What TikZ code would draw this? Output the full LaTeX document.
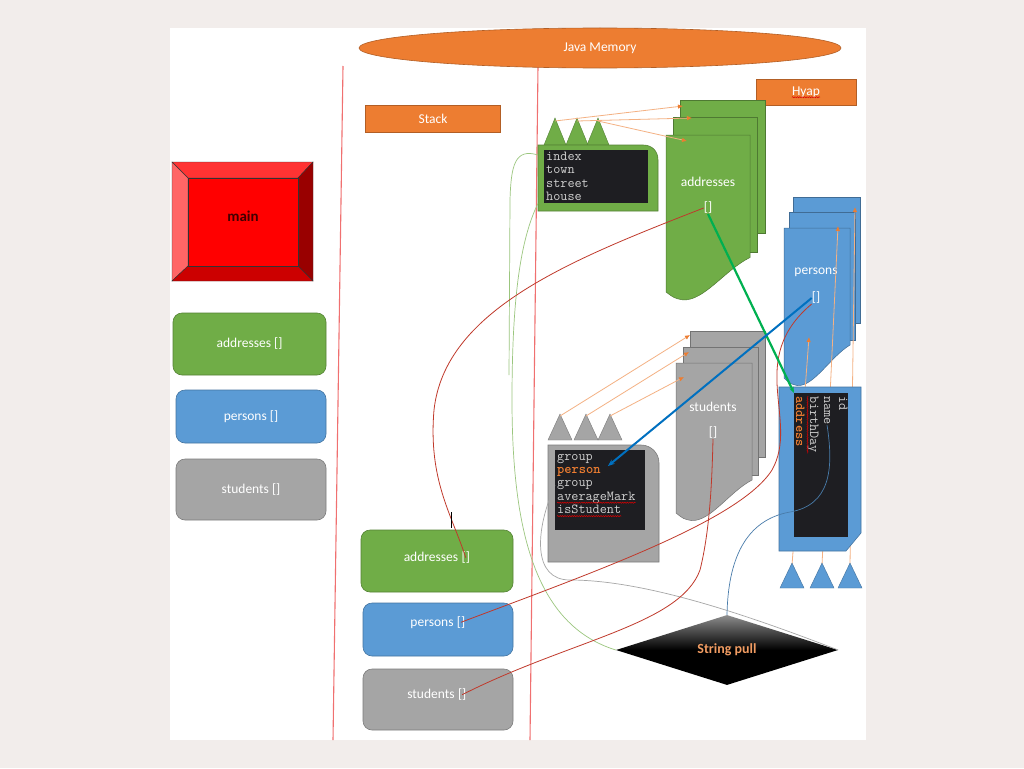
\documentclass[tikz,border=0pt]{standalone}
\usepackage{fontspec}
\setmainfont{Carlito}
\usetikzlibrary{positioning,calc,shapes.geometric,arrows.meta,decorations.pathmorphing}

\definecolor{pagebg}{HTML}{F2EDEB}
\definecolor{jorange}{HTML}{ED7D31}
\definecolor{lorange}{HTML}{F4B183}
\definecolor{jgreen}{HTML}{70AD47}
\definecolor{jblue}{HTML}{5B9BD5}
\definecolor{jgray}{HTML}{A5A5A5}
\definecolor{codebg}{HTML}{1E1E22}
\definecolor{codefg}{HTML}{D0D0D0}
\definecolor{divred}{HTML}{F07070}
\definecolor{wirered}{HTML}{C0392B}
\definecolor{thickgreen}{HTML}{00B050}
\definecolor{thickblue}{HTML}{0070C0}

\newcommand{\keytxt}[1]{\textcolor{jorange}{\bfseries #1}}
% one page of a document stack: x, y, width, height, colour
\newcommand{\docpage}[5]{%
  \filldraw[fill=#5, draw=#5!70!black, line width=0.5pt]
    (#1,#2) -- ({#1+#3},#2) -- ({#1+#3},{#2+0.78*#4})
    .. controls ({#1+0.7*#3},{#2+0.86*#4}) and ({#1+0.45*#3},{#2+1.06*#4}) .. ({#1+0.2*#3},{#2+1.05*#4})
    .. controls ({#1+0.1*#3},{#2+1.04*#4}) .. (#1,{#2+#4}) -- cycle;}

\begin{document}
\begin{tikzpicture}[x=1pt, y=-1pt,
    every node/.style={inner sep=0pt, text=white, font=\fontsize{13.5}{15}\selectfont},
    orangebar/.style={fill=jorange, draw=jorange!75!black, line width=0.6pt},
    stackbox/.style={rounded corners=9pt, line width=0.6pt},
    fld/.style={text=codefg, font=\ttfamily\fontsize{13.8}{14}\selectfont},
    codebox/.style={fill=codebg, anchor=north west},
    ptr/.style={draw=lorange, line width=0.8pt, -{Latex[length=5pt,width=4.5pt,color=jorange]}},
    wire/.style={draw=wirered, line width=0.8pt},
    thinwire/.style={line width=0.7pt},
    squig/.style={draw=red!85!black, line width=0.5pt, decorate,
      decoration={snake, amplitude=0.6pt, segment length=2.4pt}},
    divider/.style={draw=divred, line width=1.1pt}]

  \fill[pagebg] (0,0) rectangle (1024,768);
  \fill[white] (170,28) rectangle (866,740);

  \draw[divider] (343,66) -- (333,740);
  \draw[divider] (538,66) -- (530,740);

  \node[ellipse, fill=jorange, draw=jorange!75!black, line width=0.6pt,
    minimum width=482, minimum height=40] (jmem) at (600,48) {Java Memory};
  \node[orangebar, minimum width=135, minimum height=27] (stack) at (433,119) {Stack};
  \node[orangebar, minimum width=100, minimum height=26] (hyap) at (806,92) {};
  \node (hyapTxt) at (hyap) {Hyap};
  \draw[squig] ($(hyapTxt.base west)+(0,2)$) -- ($(hyapTxt.base east)+(0,2)$);

  % main
  \filldraw[draw=black!80, fill=red!80!white] (172,162) -- (313,162) -- (298,178) -- (188,178) -- cycle;
  \filldraw[draw=black!80, fill=red!60!white] (172,162) -- (188,178) -- (188,266) -- (172,281) -- cycle;
  \filldraw[draw=black!80, fill=red!60!black] (313,162) -- (313,281) -- (298,266) -- (298,178) -- cycle;
  \filldraw[draw=black!80, fill=red!80!black] (172,281) -- (313,281) -- (298,266) -- (188,266) -- cycle;
  \filldraw[draw=black!80, fill=red] (188,178) rectangle (298,266);
  \node[text=red!25!black, font=\bfseries\fontsize{15}{17}\selectfont] (main) at (243,216) {main};

  \node[stackbox, fill=jgreen, draw=jgreen!75!black, minimum width=153, minimum height=62] (mAddr) at (249.5,344) {addresses []};
  \node[stackbox, fill=jblue, draw=jblue!75!black, minimum width=150, minimum height=53] (mPers) at (251,416.5) {persons []};
  \node[stackbox, fill=jgray, draw=jgray!75!black, minimum width=150, minimum height=61] (mStud) at (251,489.5) {students []};

  % stack
  \node[stackbox, fill=jgreen, draw=jgreen!75!black, minimum width=152, minimum height=62] (sAddr) at (437,561) {};
  \node (sAddrTxt) at (431,557) {addresses};
  \node[base right=3pt of sAddrTxt] (sAddrArr) {[]};
  \node[stackbox, fill=jblue, draw=jblue!75!black, minimum width=150, minimum height=53] (sPers) at (438,629.5) {};
  \node (sPersTxt) at (432,624) {persons};
  \node[base right=3pt of sPersTxt] (sPersArr) {[]};
  \node[stackbox, fill=jgray, draw=jgray!75!black, minimum width=150, minimum height=61] (sStud) at (438,699.5) {};
  \node (sStudTxt) at (431,694) {students};
  \node[base right=3pt of sStudTxt] (sStudArr) {[]};

  % heap arrays
  \filldraw[fill=jgreen, draw=jgreen!70!black, line width=0.5pt] (680,100) rectangle (765,233);
  \filldraw[fill=jgreen, draw=jgreen!70!black, line width=0.5pt] (673,117) rectangle (757,252);
  \docpage{666}{135}{84}{157}{jgreen}
  \filldraw[fill=jblue, draw=jblue!70!black, line width=0.5pt] (793,197) rectangle (860,323);
  \filldraw[fill=jblue, draw=jblue!70!black, line width=0.5pt] (789,212) rectangle (855,340);
  \docpage{784}{228}{66}{150}{jblue}
  \filldraw[fill=jgray, draw=jgray!70!black, line width=0.5pt] (690,331) rectangle (765,457);
  \filldraw[fill=jgray, draw=jgray!70!black, line width=0.5pt] (683,347) rectangle (758,475);
  \docpage{676}{363}{76}{150}{jgray}

  \node (hAddrTxt) at (708,182) {addresses};
  \node (hAddrArr) at (708,208) {[]};
  \node (hPersTxt) at (816,272) {persons};
  \node (hPersArr) at (816,298) {[]};
  \node (hStudTxt) at (713,407) {students};
  \node (hStudArr) at (713,433) {[]};

  % address object
  \foreach \ax [count=\i] in {555,577,598} {
    \filldraw[fill=jgreen, draw=jgreen!75!black] ({\ax-11},145) -- (\ax,118) -- ({\ax+11},145) -- cycle;
    \coordinate (adrTop\i) at (\ax,121);
  }
  \filldraw[fill=jgreen, draw=jgreen!75!black, line width=0.6pt]
    (538,211) -- (538,145) -- (643,145) .. controls (652,145) and (658,151) .. (658,160) -- (658,211) -- cycle;
  \node[codebox, minimum width=104, minimum height=53] (adrCode) at (544,150) {};
  \foreach \f [count=\i] in {index,town,street,house}
    \node[fld, anchor=base west] (adrF\i) at (546,{147+13.4*\i}) {\f};
  \coordinate (adrHit1) at (683,106);
  \coordinate (adrHit2) at (692,118);
  \coordinate (adrHit3) at (687,141);
  \foreach \i in {1,2,3}
    \draw[ptr] (adrTop\i) -- (adrHit\i);

  % student object
  \foreach \ax [count=\i] in {560,586,610} {
    \filldraw[fill=jgray, draw=jgray!75!black] ({\ax-12},440) -- (\ax,414) -- ({\ax+12},440) -- cycle;
    \coordinate (stdTop\i) at (\ax,416);
  }
  \filldraw[fill=jgray, draw=jgray!75!black, line width=0.6pt]
    (548,562) -- (548,445) -- (641,445) .. controls (651,445) and (659,453) .. (659,463) -- (659,562) -- cycle;
  \node[codebox, minimum width=90, minimum height=80] (stdCode) at (555,450) {};
  \foreach \f [count=\i] in {group,{\keytxt{person}},group,averageMark,isStudent}
    \node[fld, anchor=base west] (stdF\i) at (557,{446.6+13.4*\i}) {\f};
  \draw[squig] ($(stdF4.base west)+(0,2.5)$) -- ($(stdF4.base east)+(0,2.5)$);
  \draw[squig] ($(stdF5.base west)+(0,2.5)$) -- ($(stdF5.base east)+(0,2.5)$);
  \coordinate (stdHit1) at (690,335);
  \coordinate (stdHit2) at (689,352);
  \coordinate (stdHit3) at (684,377);
  \foreach \i in {1,2,3}
    \draw[ptr] (stdTop\i) -- (stdHit\i);

  % person object
  \coordinate (prsHit1) at (809,337);
  \coordinate (prsHit2) at (838,226);
  \coordinate (prsHit3) at (855,207);
  \foreach \ax [count=\i] in {792,822,850} {
    \coordinate (prsBot\i) at (\ax,565);
    \draw[ptr] (prsBot\i) -- (prsHit\i);
    \filldraw[fill=jblue, draw=jblue!75!black] ({\ax-12},588) -- (\ax,563) -- ({\ax+12},588) -- cycle;
  }
  \filldraw[fill=jblue, draw=jblue!75!black, line width=0.6pt]
    (779,387) -- (861,387) -- (861,533) -- (846,551) -- (779,551) -- cycle;
  \node[codebox, minimum width=54, minimum height=144] (prsCode) at (794,393) {};
  \foreach \f/\bx [count=\i] in {{\keytxt{address}}/796, birthDay/810, name/824, id/839}
    \node[fld, rotate=-90, anchor=base west] (prsF\i) at (\bx,396) {\f};
  \draw[squig] ($(prsF2.base west)+(-2.5,0)$) -- ($(prsF2.base east)+(-2.5,0)$);

  \node[diamond, aspect=3, minimum width=222, minimum height=70,
    top color=black!45, bottom color=black, middle color=black,
    text=lorange!60!jorange, font=\bfseries\fontsize{14}{16}\selectfont] (spull) at (727,650) {String pull};

  % links
  \draw[thinwire, draw=jgreen!70!white] ($(adrCode.north west)+(-6,5)$)
    .. controls (515,148) and (511,165) .. (510,200) -- (509,375);
  \draw[thinwire, draw=jgreen!70!white] ($(adrCode.south west)+(-6,0)$)
    .. controls (520,240) and (512,300) .. (512,400)
    .. controls (512,530) and (535,625) .. (spull.west);
  \draw[thinwire, draw=black!35] ($(stdF3.west)+(-2,0)$)
    .. controls (535,530) and (532,580) .. (570,580)
    .. controls (650,580) and (760,620) .. (spull.east);
  \draw[thinwire, draw=jblue!80!black] (prsF3.east)
    .. controls (834,470) and (830,505) .. (790,512)
    .. controls (745,520) and (728,560) .. (spull.north);

  \draw[wire] (hAddrArr.west) .. controls (570,260) and (445,310) .. (434,410)
    .. controls (428,480) and (452,515) .. (sAddrArr.center);
  \draw[wire] (sPersArr.center) .. controls (600,570) and (740,520) .. (772,470)
    .. controls (800,420) and (745,360) .. (hPersArr.south west);
  \draw[wire] (sStudArr.center) .. controls (570,640) and (680,625) .. (700,570)
    .. controls (710,530) and (712,480) .. (hStudArr.south);
  \coordinate (tickA) at (451,512);
  \coordinate (tickB) at (451,528);
  \draw[black, line width=0.7pt] (tickA) -- (tickB);

  \draw[thickgreen, line width=2.2pt, -{Stealth[length=6pt]}] (hAddrArr.south) -- (prsCode.north west);
  \draw[thickblue, line width=2pt, -{Stealth[length=7pt]}] (hPersArr.west) -- ($(stdF2.north east)+(7,-1)$);
\end{tikzpicture}
\end{document}
